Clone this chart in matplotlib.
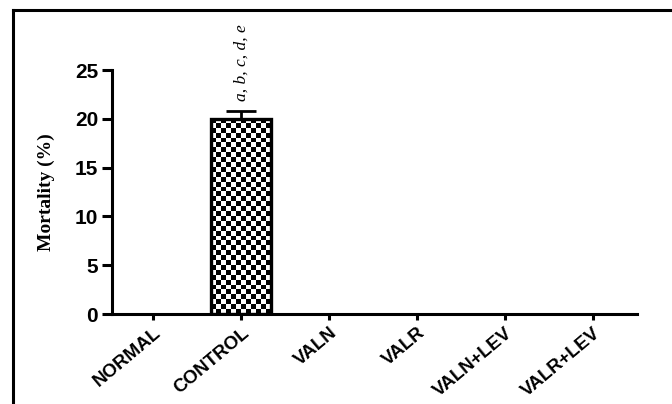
import matplotlib
matplotlib.use("Agg")
import matplotlib.pyplot as plt
import numpy as np
from matplotlib.lines import Line2D

# data
groups = ["NORMAL", "CONTROL", "VALN", "VALR", "VALN+LEV", "VALR+LEV"]
mortality = [0, 20, 0, 0, 0, 0]
errors = [0, 0.85, 0, 0, 0, 0]
sig_text = "a, b, c, d, e"

fig = plt.figure(figsize=(6.72, 4.04), dpi=100)
ax = fig.add_axes([112 / 672, 90 / 404, 525 / 672, 244 / 404])

x = np.arange(len(groups))
bars = ax.bar(x, mortality, width=0.68, facecolor="none", edgecolor="black",
              linewidth=2.4, zorder=3)

# checkerboard fill inside the non-zero bars
for b in bars:
    if b.get_height() <= 0:
        b.set_linewidth(0)
        continue
    x0, w, h = b.get_x(), b.get_width(), b.get_height()
    ncol, nrow = 12, 40
    board = (np.indices((nrow, ncol)).sum(axis=0) % 2).astype(float)
    im = ax.imshow(board, cmap="gray", interpolation="nearest", aspect="auto",
                   extent=[x0, x0 + w, 0, h], zorder=2)
    im.set_clip_path(b)

ax.errorbar(x, mortality, yerr=[np.zeros(len(errors)), errors], fmt="none",
            ecolor="black", elinewidth=2, capsize=11, capthick=2, zorder=4)

for xi, m, e in zip(x, mortality, errors):
    if m > 0:
        ax.text(xi, m + e + 1.0, sig_text, rotation=90, ha="center", va="bottom",
                fontsize=12.5, family="Liberation Serif", style="italic")

ax.set_xlim(-0.47, 5.5)
ax.set_ylim(0, 25)
ax.set_yticks([0, 5, 10, 15, 20, 25])
ax.set_xticks(x)
ax.set_xticklabels(groups, rotation=40, ha="right", rotation_mode="anchor",
                   fontsize=13.5, fontweight="bold", family="Liberation Sans")
for lbl in ax.get_yticklabels():
    lbl.set_fontsize(15)
    lbl.set_fontweight("bold")
    lbl.set_family("Liberation Sans")

ax.spines["top"].set_visible(False)
ax.spines["right"].set_visible(False)
ax.spines["left"].set_linewidth(2.2)
ax.spines["bottom"].set_linewidth(2.2)
ax.tick_params(axis="y", length=7, width=2.2, pad=3)
ax.tick_params(axis="x", length=4.5, width=2.2, pad=3)

ax.set_ylabel("Mortality (%)", fontsize=14, fontweight="bold",
              family="Liberation Serif", labelpad=14)

# outer frame lines (left and top)
fig.add_artist(Line2D([13 / 672, 13 / 672], [0, 1 - 10 / 404], color="black",
                      linewidth=2.2, transform=fig.transFigure))
fig.add_artist(Line2D([13 / 672, 1], [1 - 10 / 404, 1 - 10 / 404], color="black",
                      linewidth=2.2, transform=fig.transFigure))

fig.savefig("out.png", dpi=100)
